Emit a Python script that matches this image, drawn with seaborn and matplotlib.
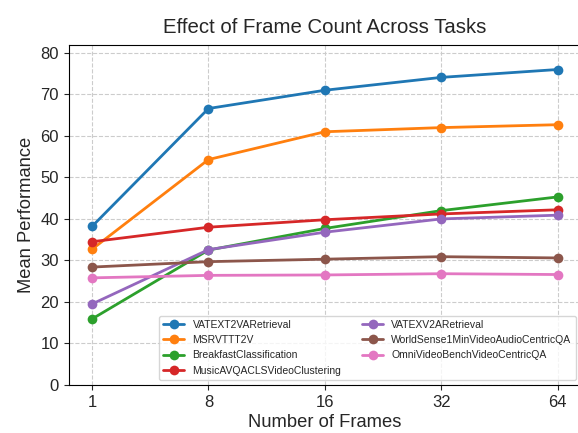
import pandas as pd
import matplotlib
matplotlib.use("Agg")
import matplotlib.pyplot as plt
import seaborn as sns

# ---------------------- DATA ----------------------
frames = ["1", "8", "16", "32", "64"]
tasks = [
    "VATEXT2VARetrieval",
    "MSRVTTT2V",
    "BreakfastClassification",
    "MusicAVQACLSVideoClustering",
    "VATEXV2ARetrieval",
    "WorldSense1MinVideoAudioCentricQA",
    "OmniVideoBenchVideoCentricQA",
]
vatext2va = [38.2, 66.6, 71.0, 74.1, 76.0]
msrvtt = [32.7, 54.3, 61.0, 62.0, 62.7]
breakfast = [15.9, 32.5, 37.7, 42.0, 45.3]
musicavqa = [34.5, 38.0, 39.8, 41.2, 42.2]
vatexv2a = [19.5, 32.6, 36.8, 40.0, 40.9]
worldsense = [28.4, 29.7, 30.3, 30.9, 30.6]
omnivideo = [25.8, 26.4, 26.5, 26.8, 26.6]

series = [vatext2va, msrvtt, breakfast, musicavqa, vatexv2a, worldsense, omnivideo]
rows = []
for task, vals in zip(tasks, series):
    for f, v in zip(frames, vals):
        rows.append({"Frames": f, "Task": task, "Score": v})
df = pd.DataFrame(rows)

# ---------------------- STYLE ----------------------
sns.set_style("ticks")
plt.rcParams['font.family'] = ['Liberation Sans', 'DejaVu Sans']

fig, ax = plt.subplots(figsize=(5.78, 4.33), dpi=100)

sns.lineplot(
    data=df, x="Frames", y="Score", hue="Task",
    palette="tab10", marker="o", markersize=7, markeredgewidth=0,
    linewidth=2, ax=ax
)

ax.set_ylim(0, 82)
ax.set_yticks(range(0, 81, 10))
ax.grid(True, linestyle='--', color='#cccccc', linewidth=0.8)
ax.set_title("Effect of Frame Count Across Tasks", fontsize=14.7, pad=8)
ax.set_xlabel("Number of Frames", fontsize=13.2, labelpad=3)
ax.set_ylabel("Mean Performance", fontsize=13.2)
ax.tick_params(labelsize=12)
for s in ax.spines.values():
    s.set_color('black')

ax.legend(loc='lower right', ncol=2, fontsize=7.5, frameon=True)

# the reference is cropped on the right, so the axes run past the edge
fig.subplots_adjust(left=0.119, right=1.005, top=0.897, bottom=0.111)
plt.savefig("out.png", dpi=100)
